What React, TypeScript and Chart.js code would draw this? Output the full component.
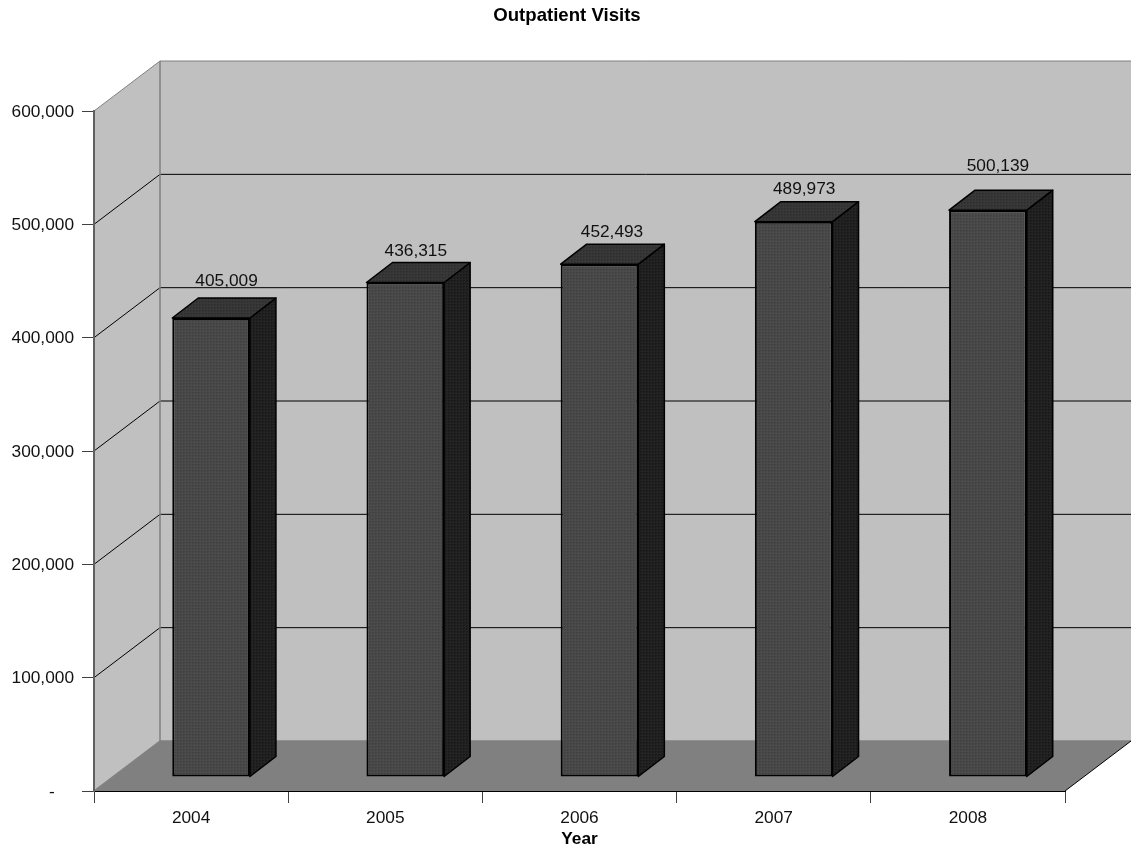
import React, { useEffect, useRef } from "react";
import { Chart, registerables } from "chart.js";

Chart.register(...registerables);

const years = ["2004", "2005", "2006", "2007", "2008"];
const visits = [405009, 436315, 452493, 489973, 500139];
const axisMax = 600000;
const axisStep = 100000;

// Hand-placed value labels: shift from the centre of each bar's top face.
const labelShiftX = [2.5, -2.5, -0.5, -2.5, -3];
const labelShiftY = [-17, -11.5, -12, -12, -23.5];

const FONT = "'Liberation Sans', Arial, sans-serif";
const TEXT_SIZE = 17.3;
const DEPTH_X = 66;
const DEPTH_Y = 50;
// Bars stand partway into the floor; their own depth is 40% of the floor depth.
const BAR_OFFSET_X = 20;
const BAR_OFFSET_Y = 14;
const BAR_DEPTH_X = 26;
const BAR_DEPTH_Y = 20;

function dotted(base: string, dot: string) {
  const c = document.createElement("canvas");
  c.width = 3;
  c.height = 3;
  const g = c.getContext("2d")!;
  g.fillStyle = base;
  g.fillRect(0, 0, 3, 3);
  g.fillStyle = dot;
  g.fillRect(1, 1, 1, 1);
  g.fillRect(2, 1, 1, 1);
  g.fillRect(1, 2, 1, 1);
  return g.createPattern(c, "repeat")!;
}

function polygon(ctx: CanvasRenderingContext2D, pts: number[][]) {
  ctx.beginPath();
  pts.forEach(([x, y], i) => (i ? ctx.lineTo(x, y) : ctx.moveTo(x, y)));
  ctx.closePath();
}

// Side walls, floor and receding gridlines of the box behind the bars.
const roomPlugin = {
  id: "room",
  beforeDraw(chart: any) {
    const { ctx, chartArea: a, scales } = chart;
    const { left, right, top, bottom } = a;
    ctx.save();
    ctx.fillStyle = "#c0c0c0";
    polygon(ctx, [
      [left, bottom],
      [left, top],
      [left + DEPTH_X, top - DEPTH_Y],
      [right + DEPTH_X, top - DEPTH_Y],
      [right + DEPTH_X, bottom - DEPTH_Y],
      [left + DEPTH_X, bottom - DEPTH_Y],
    ]);
    ctx.fill();

    ctx.fillStyle = "#808080";
    polygon(ctx, [
      [left, bottom],
      [right, bottom],
      [right + DEPTH_X, bottom - DEPTH_Y],
      [left + DEPTH_X, bottom - DEPTH_Y],
    ]);
    ctx.fill();

    ctx.lineWidth = 1;
    scales.y.ticks.forEach((t: any) => {
      if (t.value === 0) return;
      const y = scales.y.getPixelForValue(t.value);
      const isTop = t.value === axisMax;
      ctx.strokeStyle = isTop ? "#808080" : "#000000";
      ctx.beginPath();
      ctx.moveTo(left, y);
      ctx.lineTo(left + DEPTH_X, y - DEPTH_Y);
      ctx.lineTo(right + DEPTH_X, y - DEPTH_Y);
      ctx.stroke();
    });

    ctx.strokeStyle = "#808080";
    ctx.lineWidth = 1.5;
    ctx.beginPath();
    ctx.moveTo(left + DEPTH_X, top - DEPTH_Y);
    ctx.lineTo(left + DEPTH_X, bottom - DEPTH_Y);
    ctx.lineTo(left, bottom);
    ctx.moveTo(left + DEPTH_X, bottom - DEPTH_Y);
    ctx.lineTo(right + DEPTH_X, bottom - DEPTH_Y);
    ctx.stroke();

    ctx.strokeStyle = "#000000";
    ctx.lineWidth = 1;
    ctx.beginPath();
    ctx.moveTo(right, bottom);
    ctx.lineTo(right + DEPTH_X, bottom - DEPTH_Y);
    ctx.stroke();
    ctx.restore();
  },
  // The front faces are pushed back onto the floor while the library paints them.
  beforeDatasetDraw(chart: any) {
    const { ctx } = chart;
    ctx.save();
    ctx.translate(BAR_OFFSET_X, -BAR_OFFSET_Y);
  },
  afterDatasetDraw(chart: any, args: any) {
    const { ctx } = chart;
    ctx.restore();
    ctx.save();
    const meta = chart.getDatasetMeta(args.index);
    const topFill = dotted("#383838", "#2f2f2f");
    const sideFill = dotted("#232323", "#191919");
    meta.data.forEach((bar: any, i: number) => {
      const x0 = bar.x - bar.width / 2 + BAR_OFFSET_X;
      const x1 = bar.x + bar.width / 2 + BAR_OFFSET_X;
      const yTop = bar.y - BAR_OFFSET_Y;
      const yBase = bar.base - BAR_OFFSET_Y;
      ctx.lineWidth = 1.5;
      ctx.lineJoin = "round";
      ctx.strokeStyle = "#000000";
      ctx.fillStyle = sideFill;
      polygon(ctx, [
        [x1, yTop],
        [x1 + BAR_DEPTH_X, yTop - BAR_DEPTH_Y],
        [x1 + BAR_DEPTH_X, yBase - BAR_DEPTH_Y],
        [x1, yBase],
      ]);
      ctx.fill();
      ctx.stroke();
      ctx.fillStyle = topFill;
      polygon(ctx, [
        [x0, yTop],
        [x0 + BAR_DEPTH_X, yTop - BAR_DEPTH_Y],
        [x1 + BAR_DEPTH_X, yTop - BAR_DEPTH_Y],
        [x1, yTop],
      ]);
      ctx.fill();
      ctx.stroke();

      ctx.fillStyle = "#111111";
      ctx.font = `${TEXT_SIZE}px ${FONT}`;
      ctx.textAlign = "center";
      ctx.textBaseline = "middle";
      ctx.fillText(
        visits[i].toLocaleString("en-US"),
        (x0 + x1 + BAR_DEPTH_X) / 2 + labelShiftX[i],
        yTop - BAR_DEPTH_Y + labelShiftY[i]
      );
    });
    ctx.restore();
  },
};

export default function App() {
  const ref = useRef<HTMLCanvasElement>(null);

  useEffect(() => {
    const chart = new Chart(ref.current!, {
      type: "bar",
      plugins: [roomPlugin],
      data: {
        labels: years,
        datasets: [
          {
            label: "Outpatient Visits",
            data: visits,
            backgroundColor: dotted("#4b4b4b", "#414141"),
            borderColor: "#000000",
            borderWidth: 2,
            borderSkipped: false,
            barPercentage: 0.4,
            categoryPercentage: 1,
            clip: false,
          },
        ],
      },
      options: {
        responsive: false,
        animation: false,
        layout: { padding: { left: 3, right: 0, top: 0, bottom: 0 } },
        plugins: {
          legend: { display: false },
          tooltip: { enabled: false },
          title: {
            display: true,
            text: "Outpatient Visits",
            color: "#000000",
            font: { family: FONT, size: 18.6, weight: "bold", lineHeight: 1.2 },
            padding: { top: 5, bottom: 83.7 },
          },
        },
        scales: {
          x: {
            afterFit: (s: any) => {
              s.height = 56;
            },
            grid: {
              offset: true,
              drawOnChartArea: false,
              drawTicks: true,
              tickLength: 12,
              color: "#404040",
            },
            border: { display: true, color: "#000000", width: 1 },
            ticks: {
              color: "#111111",
              font: { family: FONT, size: TEXT_SIZE },
              padding: 5,
              maxRotation: 0,
            },
            title: {
              display: true,
              text: "Year",
              color: "#000000",
              font: { family: FONT, size: TEXT_SIZE, weight: "bold" },
              padding: { top: 0, bottom: -2.5 },
            },
          },
          y: {
            min: 0,
            max: axisMax,
            afterFit: (s: any) => {
              s.width = 91;
            },
            grid: {
              drawOnChartArea: false,
              drawTicks: true,
              tickLength: 12,
              color: "#404040",
            },
            border: { display: true, color: "#606060", width: 2 },
            ticks: {
              stepSize: axisStep,
              color: "#111111",
              font: { family: FONT, size: TEXT_SIZE },
              padding: 8,
              labelOffset: 1,
              callback: (v: any) => (v === 0 ? "-    " : Number(v).toLocaleString("en-US")),
            },
          },
          // Empty axis that reserves the receding depth on the right of the plot.
          depth: {
            axis: "y",
            position: "right",
            display: true,
            afterFit: (s: any) => {
              s.width = 66;
            },
            grid: { display: false },
            border: { display: false },
            ticks: { display: false },
          },
        },
      },
    } as any);
    return () => chart.destroy();
  }, []);

  return (
    <div style={{ position: "absolute", left: 0, top: 0, width: 1131, height: 847, background: "#ffffff" }}>
      <canvas ref={ref} width={1131} height={847} style={{ display: "block" }} />
    </div>
  );
}
